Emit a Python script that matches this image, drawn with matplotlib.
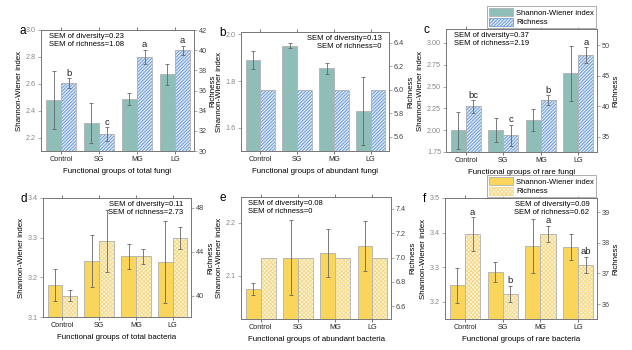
import numpy as np
import matplotlib
matplotlib.use("Agg")
import matplotlib.pyplot as plt
from matplotlib.patches import Patch

plt.rcParams['font.family'] = ['Liberation Sans', 'DejaVu Sans']
plt.rcParams['hatch.linewidth'] = 0.7

groups = ['Control', 'SG', 'MG', 'LG']

# shannon mean, shannon err, richness mean, richness err
fungi_total_sh = [2.48, 2.31, 2.49, 2.67]
fungi_total_sh_err = [0.215, 0.15, 0.045, 0.08]
fungi_total_ri = [36.7, 31.65, 39.35, 40.0]
fungi_total_ri_err = [0.5, 0.7, 0.7, 0.45]
fungi_total_letters = ['b', 'c', 'a', 'a']

fungi_abund_sh = [1.889, 1.952, 1.854, 1.672]
fungi_abund_sh_err = [0.038, 0.012, 0.025, 0.145]
fungi_abund_ri = [6.0, 6.0, 6.0, 6.0]
fungi_abund_ri_err = [0, 0, 0, 0]

fungi_rare_sh = [2.0, 2.005, 2.12, 2.65]
fungi_rare_sh_err = [0.21, 0.135, 0.125, 0.32]
fungi_rare_ri = [39.95, 35.2, 41.0, 48.4]
fungi_rare_ri_err = [1.0, 1.75, 0.8, 1.35]
fungi_rare_letters = ['bc', 'c', 'b', 'a']

bact_total_sh = [3.181, 3.241, 3.253, 3.239]
bact_total_sh_err = [0.04, 0.065, 0.031, 0.103]
bact_total_ri = [40.03, 45.0, 43.6, 45.3]
bact_total_ri_err = [0.5, 2.85, 0.7, 1.0]

bact_abund_sh = [2.075, 2.134, 2.143, 2.156]
bact_abund_sh_err = [0.011, 0.071, 0.046, 0.047]
bact_abund_ri = [7.0, 7.0, 7.0, 7.0]
bact_abund_ri_err = [0, 0, 0, 0]

bact_rare_sh = [3.247, 3.286, 3.362, 3.358]
bact_rare_sh_err = [0.05, 0.03, 0.078, 0.038]
bact_rare_ri = [38.3, 36.33, 38.3, 37.28]
bact_rare_ri_err = [0.55, 0.27, 0.26, 0.27]
bact_rare_letters = ['a', 'b', 'a', 'ab']

panels = [
    dict(tag='a', pos=(41, 30, 194, 151), sh=fungi_total_sh, she=fungi_total_sh_err,
         ri=fungi_total_ri, rie=fungi_total_ri_err, letters=fungi_total_letters,
         yl=(2.1, 3.0), yt=[2.2, 2.4, 2.6, 2.8, 3.0], yfmt='%.1f',
         yr=(30, 42), yrt=[30, 32, 34, 36, 38, 40, 42], yrfmt='%d',
         sem='SEM of diversity=0.23\nSEM of richness=1.08', semloc='left',
         xlabel='Functional groups of total fungi', kind='fungi'),
    dict(tag='b', pos=(241, 32, 389, 151), sh=fungi_abund_sh, she=fungi_abund_sh_err,
         ri=fungi_abund_ri, rie=fungi_abund_ri_err, letters=None,
         yl=(1.5, 2.01), yt=[1.6, 1.8, 2.0], yfmt='%.1f',
         yr=(5.48, 6.49), yrt=[5.6, 5.8, 6.0, 6.2, 6.4], yrfmt='%.1f',
         sem='SEM of diversity=0.13\nSEM of richness=0', semloc='right',
         xlabel='Functional groups of abundant fungi', kind='fungi'),
    dict(tag='c', pos=(446, 29, 597, 152), sh=fungi_rare_sh, she=fungi_rare_sh_err,
         ri=fungi_rare_ri, rie=fungi_rare_ri_err, letters=fungi_rare_letters,
         yl=(1.75, 3.16), yt=[1.75, 2.0, 2.25, 2.5, 2.75, 3.0], yfmt='%.2f',
         yr=(32.45, 52.7), yrt=[35, 40, 45, 50], yrfmt='%d',
         sem='SEM of diversity=0.37\nSEM of richness=2.19', semloc='left',
         xlabel='Functional groups of rare fungi', kind='fungi'),
    dict(tag='d', pos=(43, 198, 191, 317), sh=bact_total_sh, she=bact_total_sh_err,
         ri=bact_total_ri, rie=bact_total_ri_err, letters=None,
         yl=(3.1, 3.4), yt=[3.1, 3.2, 3.3, 3.4], yfmt='%.1f',
         yr=(38.08, 48.9), yrt=[40, 44, 48], yrfmt='%d',
         sem='SEM of diversity=0.11\nSEM of richness=2.73', semloc='right',
         xlabel='Functional groups of total bacteria', kind='bact'),
    dict(tag='e', pos=(241, 197, 391, 319), sh=bact_abund_sh, she=bact_abund_sh_err,
         ri=bact_abund_ri, rie=bact_abund_ri_err, letters=None,
         yl=(2.018, 2.249), yt=[2.1, 2.2], yfmt='%.1f',
         yr=(6.496, 7.496), yrt=[6.6, 6.8, 7.0, 7.2, 7.4], yrfmt='%.1f',
         sem='SEM of diversity=0.08\nSEM of richness=0', semloc='left',
         xlabel='Functional groups of abundant bacteria', kind='bact'),
    dict(tag='f', pos=(445, 198, 597, 319), sh=bact_rare_sh, she=bact_rare_sh_err,
         ri=bact_rare_ri, rie=bact_rare_ri_err, letters=bact_rare_letters,
         yl=(3.15, 3.5), yt=[3.2, 3.3, 3.4, 3.5], yfmt='%.1f',
         yr=(35.51, 39.47), yrt=[36, 37, 38, 39], yrfmt='%d',
         sem='SEM of diversity=0.09\nSEM of richness=0.62', semloc='right',
         xlabel='Functional groups of rare bacteria', kind='bact'),
]

styles = {
    'fungi': dict(face='#8fbdb8', rface='#dce8f6', hatch='#6e9dd6', pattern='//////////',
                  ylcol='#6f9592'),
    'bact': dict(face='#f9d55c', rface='#fdf4d6', hatch='#f3da8c', pattern='xxxxxxxx',
                 ylcol='#c2a23e'),
}

W, H = 632, 350
fig = plt.figure(figsize=(W / 100, H / 100), dpi=100)

x = np.arange(len(groups))
bw = 0.4
fs = 5.2
edge = '#b0b0b0'
ecol = '#666666'

for p in panels:
    l, t, r, b = p['pos']
    ax = fig.add_axes([l / W, 1 - b / H, (r - l) / W, (b - t) / H])
    ax2 = ax.twinx()
    st = styles[p['kind']]

    ax.bar(x - bw / 2, p['sh'], bw, color=st['face'], edgecolor=edge, linewidth=0.6, zorder=2)
    ax.errorbar(x - bw / 2, p['sh'], yerr=p['she'], fmt='none', ecolor=ecol,
                elinewidth=0.6, capsize=1.3, capthick=0.6, zorder=3)

    ax2.bar(x + bw / 2, p['ri'], bw, color=st['rface'], edgecolor=st['hatch'],
            hatch=st['pattern'], linewidth=0, zorder=2)
    ax2.bar(x + bw / 2, p['ri'], bw, color='none', edgecolor=edge, linewidth=0.6, zorder=2)
    if any(e > 0 for e in p['rie']):
        ax2.errorbar(x + bw / 2, p['ri'], yerr=p['rie'], fmt='none', ecolor=ecol,
                     elinewidth=0.6, capsize=1.3, capthick=0.6, zorder=3)
    if p['letters']:
        span = p['yr'][1] - p['yr'][0]
        for xi, v, e, s in zip(x, p['ri'], p['rie'], p['letters']):
            ax2.text(xi + bw / 2, v + e + span * 0.003, s, ha='center', va='bottom',
                     fontsize=6.8, color='#222222', zorder=6)

    ax.set_xlim(-0.53, 3.5)
    ax.set_ylim(*p['yl'])
    ax.set_yticks(p['yt'])
    ax.set_yticklabels([p['yfmt'] % v for v in p['yt']], color=st['ylcol'])
    ax2.set_ylim(*p['yr'])
    ax2.set_yticks(p['yrt'])
    ax2.set_yticklabels([p['yrfmt'] % v for v in p['yrt']], color='#444444')
    ax.set_xticks(x)
    ax.set_xticklabels(groups)
    ax.tick_params(axis='both', labelsize=fs, length=2, width=0.5, pad=1.5, top=True)
    ax.tick_params(axis='x', colors='#444444', labelcolor='#222222')
    ax.tick_params(axis='y', colors='#888888')
    ax2.tick_params(axis='y', labelsize=fs, length=2, width=0.5, pad=1.5, colors='#888888',
                    labelcolor='#444444')
    for a in (ax, ax2):
        for s in a.spines.values():
            s.set_linewidth(0.6)
            s.set_color('#777777')
    ax.set_ylabel('Shannon-Wiener index', fontsize=fs + 0.5, labelpad=2)
    ax2.set_ylabel('Richness', fontsize=fs + 0.5, labelpad=2)
    ax.set_xlabel(p['xlabel'], fontsize=fs + 0.5, labelpad=4)

    if p['semloc'] == 'left':
        ax.text(0.05, 0.975, p['sem'], transform=ax.transAxes, ha='left', va='top',
                fontsize=fs + 0.3, linespacing=1.15, zorder=5)
    else:
        ax.text(0.95, 0.975, p['sem'], transform=ax.transAxes, ha='right', va='top',
                fontsize=fs + 0.3, linespacing=1.15, zorder=5)

    fig.text((l - 22) / W, 1 - (t + 1) / H, p['tag'], fontsize=8.5, ha='left', va='center')

    if p['tag'] in ('c', 'f'):
        handles = [Patch(facecolor=st['face'], edgecolor=edge, linewidth=0.6),
                   Patch(facecolor=st['rface'], edgecolor=st['hatch'], hatch=st['pattern'],
                         linewidth=0.6)]
        leg = ax.legend(handles, ['Shannon-Wiener index', 'Richness'], loc='lower right',
                        bbox_to_anchor=(1.0, 1.0), fontsize=fs + 0.3, frameon=True,
                        fancybox=False, borderpad=0.25, handlelength=3.2, handleheight=1.3,
                        handletextpad=0.4, labelspacing=0.1, borderaxespad=0.1)
        leg.get_frame().set_linewidth(0.6)
        leg.get_frame().set_edgecolor('#888888')

fig.savefig('out.png', dpi=100)
